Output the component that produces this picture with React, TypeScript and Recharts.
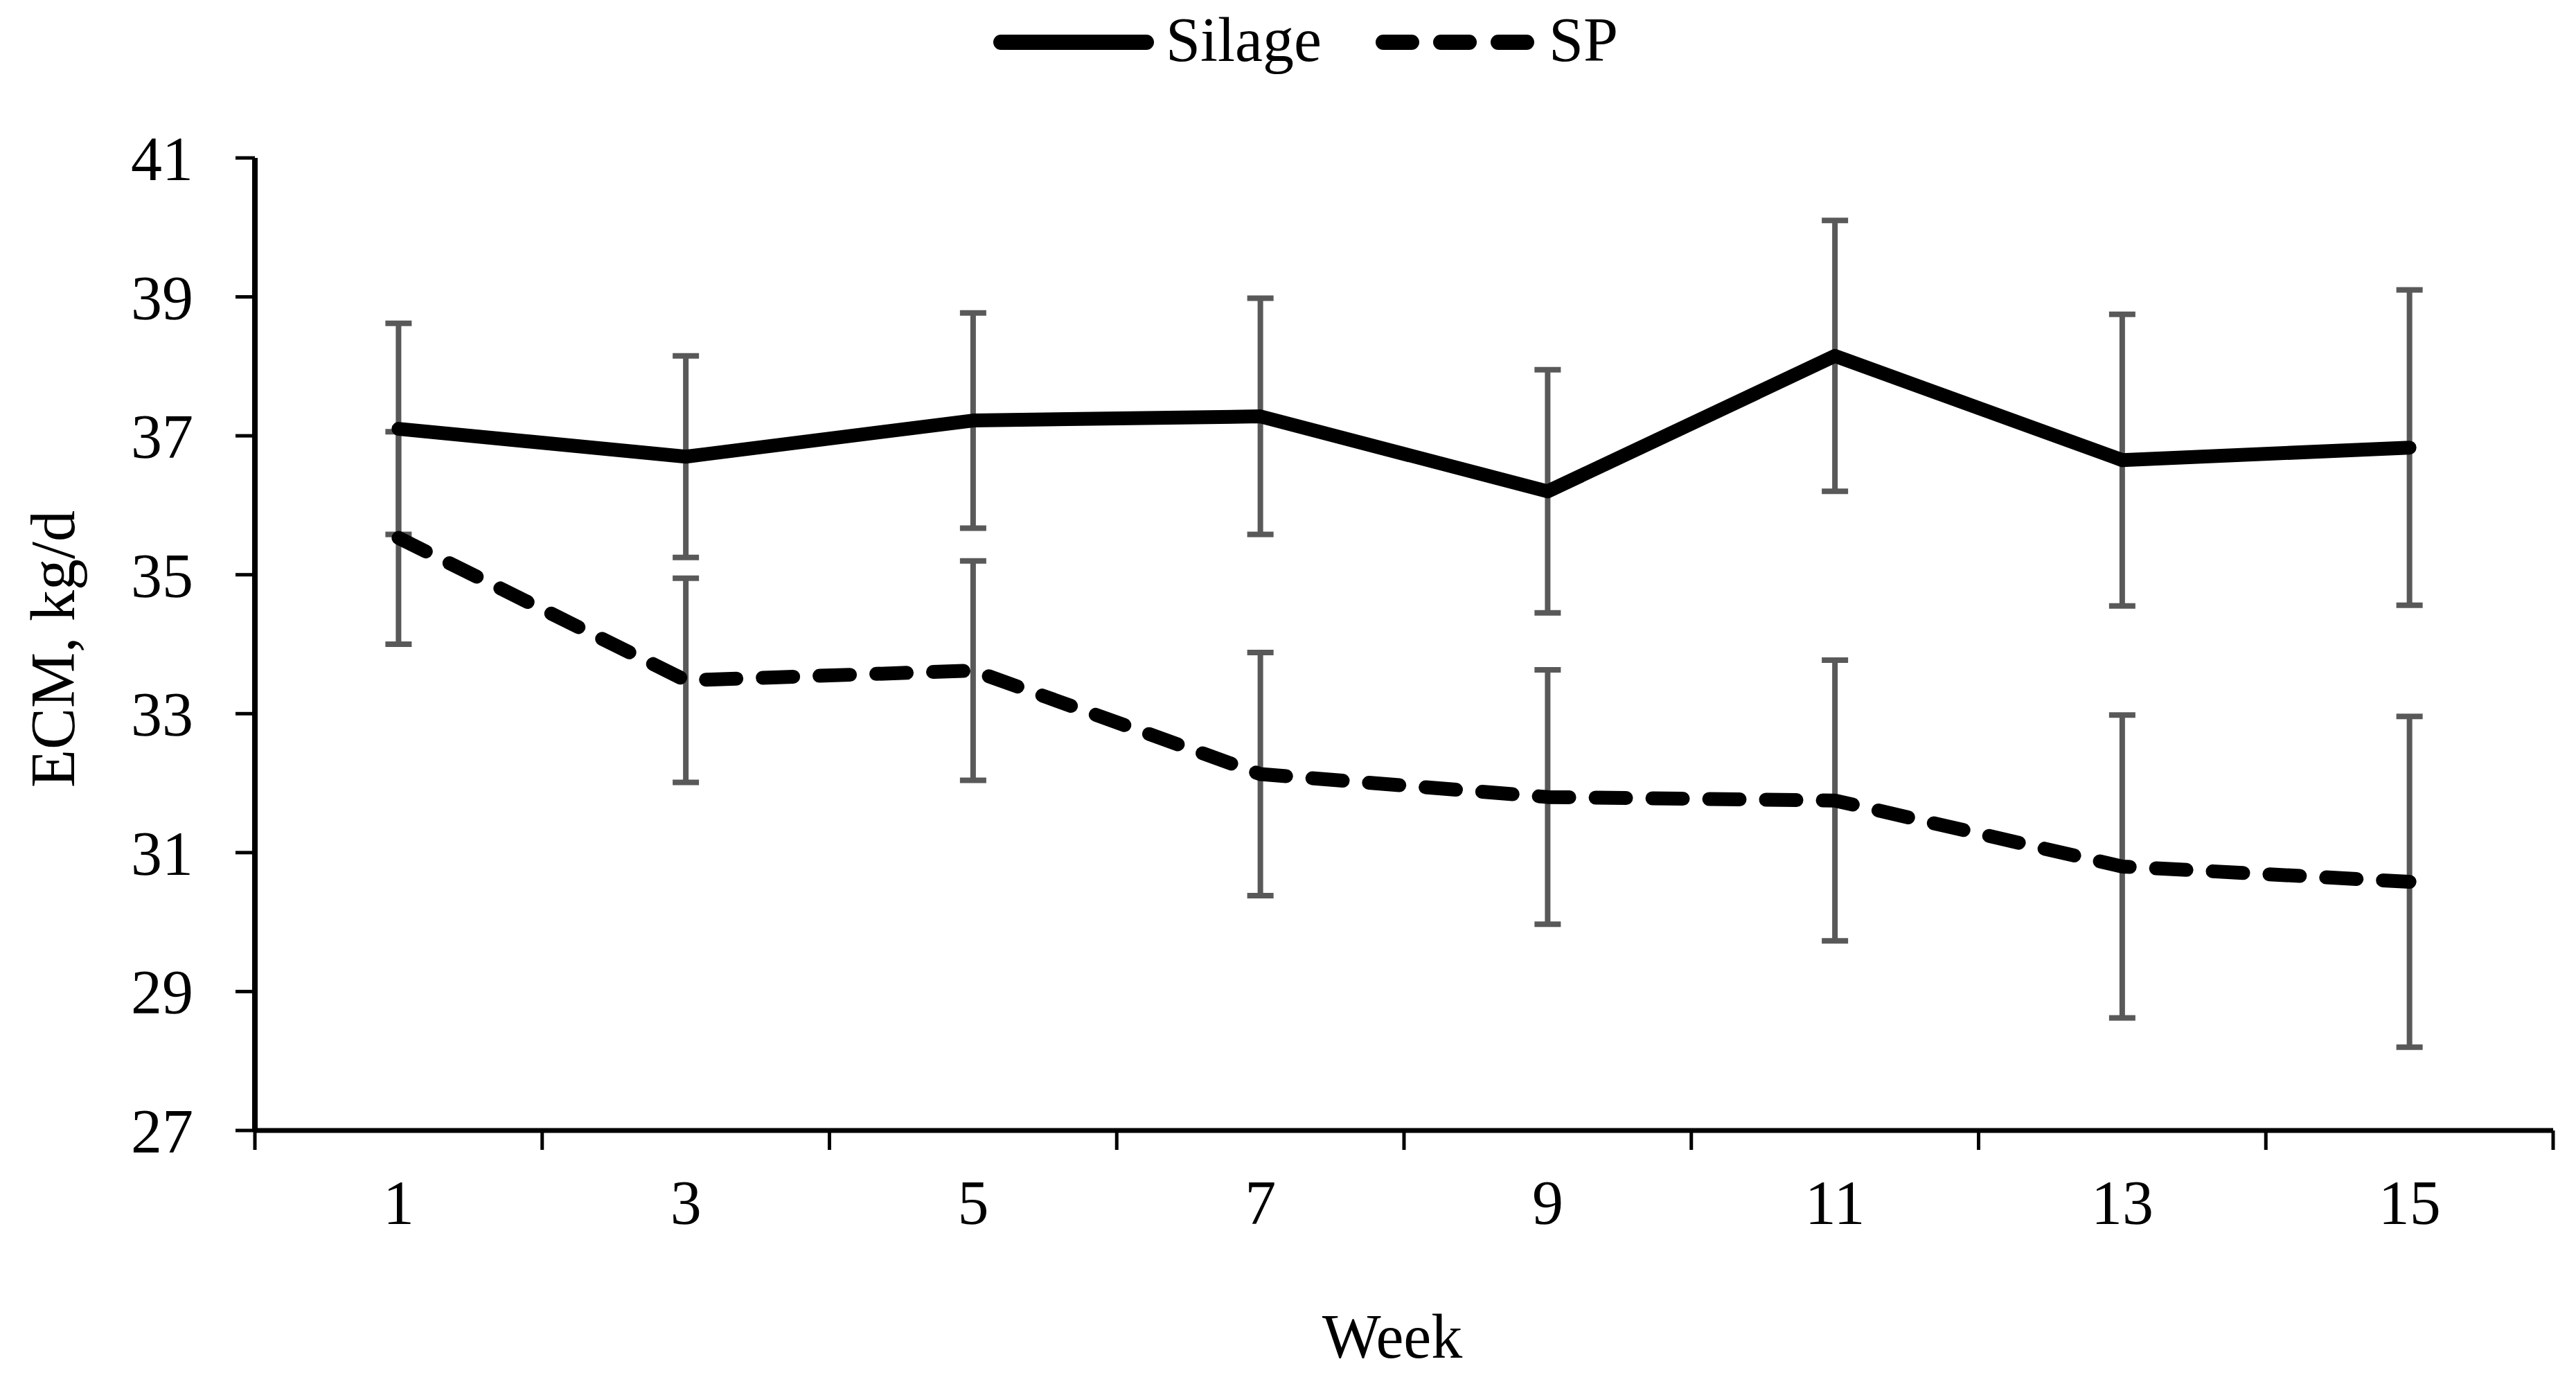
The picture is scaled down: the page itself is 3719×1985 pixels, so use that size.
import React from 'react';
import { LineChart, Line, XAxis, YAxis, ErrorBar, Legend } from 'recharts';

const weeks = [1, 3, 5, 7, 9, 11, 13, 15];
const silage = [37.1, 36.7, 37.22, 37.28, 36.2, 38.15, 36.65, 36.83];
const silageErr = [1.52, 1.45, 1.55, 1.7, 1.75, 1.95, 2.1, 2.27];
const sp = [35.53, 33.48, 33.62, 32.13, 31.8, 31.75, 30.8, 30.58];
const spErr = [1.53, 1.47, 1.58, 1.75, 1.83, 2.02, 2.18, 2.38];
const yTicks = [27, 29, 31, 33, 35, 37, 39, 41];
const xBounds = [0, 2, 4, 6, 8, 10, 12, 14, 16];

const FONT = '"Liberation Serif", "Times New Roman", serif';
const W = 3719;
const H = 1985;
const TICK = 28;

const data = weeks.map((w, i) => ({
  week: w,
  silage: silage[i],
  silageErr: silageErr[i],
  sp: sp[i],
  spErr: spErr[i],
}));

const xTicks = [...xBounds, ...weeks].sort((a, b) => a - b);

const series = [
  { key: 'silage', name: 'Silage', legendDash: undefined as string | undefined, legendW: 232 },
  { key: 'sp', name: 'SP', legendDash: '41 42', legendW: 229 },
];

const XTick = (props: any) => {
  const { x, y, payload } = props;
  if (weeks.includes(payload.value)) {
    return (
      <text x={x} y={y + 107} textAnchor="middle" fontSize={90} fontFamily={FONT} fill="#000">
        {payload.value}
      </text>
    );
  }
  return <line x1={x} x2={x} y1={y - TICK} y2={y} stroke="#000" strokeWidth={5} />;
};

const LegendContent = (props: any) => {
  const shown = (props.payload || []).filter((p: any) => p.type !== 'none').map((p: any) => p.value);
  const items = series.filter((s) => shown.length === 0 || shown.includes(s.name));
  return (
    <div style={{ position: 'absolute', left: 1434, top: 0, height: 120, display: 'flex', alignItems: 'flex-start', fontFamily: FONT }}>
      {items.map((s, i) => (
        <div key={s.key} style={{ display: 'flex', alignItems: 'flex-start', marginLeft: i === 0 ? 0 : 78 }}>
          <svg width={s.legendW} height={22} style={{ marginTop: 50, display: 'block' }}>
            <line x1={11} x2={s.legendW - 11} y1={11} y2={11} stroke="#000" strokeWidth={22} strokeLinecap="round" strokeDasharray={s.legendDash} />
          </svg>
          <div style={{ marginLeft: i === 0 ? 17 : 21, marginTop: 13, fontSize: 90, lineHeight: '90px', color: '#000' }}>{s.name}</div>
        </div>
      ))}
    </div>
  );
};

const YLabel = (props: any) => {
  const vb = props.viewBox || { x: 0, y: 228, width: 368, height: 1404 };
  const cx = vb.x + 107;
  const cy = vb.y + vb.height / 2 + 7;
  return (
    <text x={cx} y={cy} transform={`rotate(-90 ${cx} ${cy})`} textAnchor="middle" fontSize={90} fontFamily={FONT} fill="#000">
      ECM, kg/d
    </text>
  );
};

const XLabel = (props: any) => {
  const vb = props.viewBox || { x: 368, y: 1632, width: 3318, height: 100 };
  return (
    <text x={vb.x + vb.width / 2 - 17} y={vb.y + 328} textAnchor="middle" fontSize={90} fontFamily={FONT} fill="#000">
      Week
    </text>
  );
};

export default function App() {
  return (
    <div style={{ position: 'absolute', left: 0, top: 0, width: W, height: H, background: '#fff' }}>
      <LineChart width={W} height={H} data={data} margin={{ top: 228, right: 33, bottom: 253, left: 0 }}>
        <XAxis
          dataKey="week"
          type="number"
          domain={[0, 16]}
          ticks={xTicks}
          interval={0}
          height={100}
          tickSize={TICK}
          tickMargin={0}
          tickLine={false}
          axisLine={{ stroke: '#000', strokeWidth: 7 }}
          tick={<XTick />}
          label={<XLabel />}
        />
        <YAxis
          type="number"
          domain={[27, 41]}
          ticks={yTicks}
          interval={0}
          width={368}
          tickSize={TICK}
          tickMargin={61}
          axisLine={{ stroke: '#000', strokeWidth: 8 }}
          tickLine={{ stroke: '#000', strokeWidth: 5 }}
          tick={{ fill: '#000', fontSize: 90, fontFamily: FONT }}
          label={<YLabel />}
        />
        <Legend verticalAlign="middle" align="center" layout="horizontal" content={<LegendContent />} wrapperStyle={{ top: 0, left: 0, width: W, height: 120 }} />
        <Line dataKey="silage" stroke="none" dot={false} legendType="none" isAnimationActive={false} activeDot={false}>
          <ErrorBar dataKey="silageErr" direction="y" width={19} stroke="#595959" strokeWidth={8} />
        </Line>
        <Line dataKey="sp" stroke="none" dot={false} legendType="none" isAnimationActive={false} activeDot={false}>
          <ErrorBar dataKey="spErr" direction="y" width={19} stroke="#595959" strokeWidth={8} />
        </Line>
        <Line dataKey="silage" name="Silage" stroke="#000" strokeWidth={20} strokeLinecap="round" strokeLinejoin="round" dot={false} activeDot={false} isAnimationActive={false} />
        <Line dataKey="sp" name="SP" stroke="#000" strokeWidth={20} strokeDasharray="44 38" strokeLinecap="round" strokeLinejoin="round" dot={false} activeDot={false} isAnimationActive={false} />
      </LineChart>
    </div>
  );
}
